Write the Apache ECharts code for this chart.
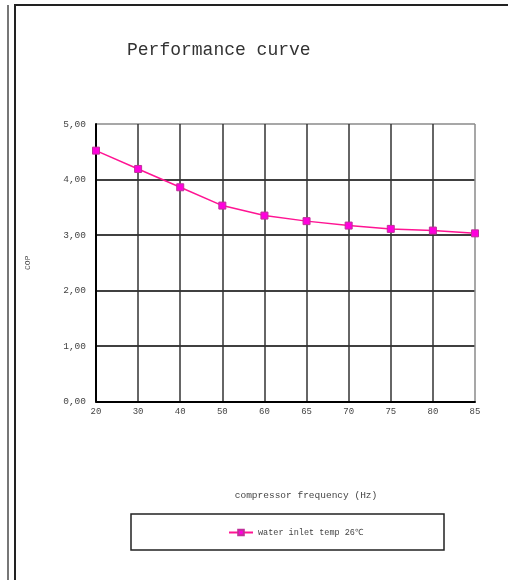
<!DOCTYPE html>
<html>
<head>
<meta charset="utf-8">
<script src="https://cdn.jsdelivr.net/npm/echarts@6/dist/echarts.min.js"></script>
<style>html,body{margin:0;padding:0;background:#fff}#c{width:508px;height:580px}</style>
</head>
<body>
<div id="c"></div>
<script>
const categories = ['20','30','40','50','60','65','70','75','80','85'];
const copValues = [4.52, 4.19, 3.86, 3.53, 3.35, 3.25, 3.17, 3.11, 3.08, 3.03];
const seriesName = 'water inlet temp 26℃';
const titleText = 'Performance curve';
const xName = 'compressor frequency (Hz)';
const yName = 'COP';

const mono = '"Liberation Mono", "DejaVu Sans Mono", monospace';
const chart = echarts.init(document.getElementById('c'));
const xColors = categories.map((c, i) => i === categories.length - 1 ? '#8a8a8a' : '#333');
chart.setOption({
  animation: false,
  backgroundColor: '#fff',
  title: {
    text: titleText, left: 122, top: 36,
    textStyle: { fontFamily: mono, fontSize: 18, fontWeight: 'normal', color: '#333' }
  },
  grid: { left: 96, right: 33, top: 124, bottom: 178.5 },
  legend: {
    left: 228, top: 528, padding: 0, itemWidth: 24, itemHeight: 7, itemGap: 4,
    data: [{ name: seriesName }],
    textStyle: { fontFamily: mono, fontSize: 8.5, color: '#444' }
  },
  xAxis: {
    type: 'category', data: categories, boundaryGap: false,
    name: xName, nameLocation: 'middle', nameGap: 89,
    nameTextStyle: { fontFamily: mono, fontSize: 9.5, color: '#444', padding: [0, 0, 0, 41] },
    axisLine: { lineStyle: { color: '#000', width: 2 } },
    axisTick: { show: false },
    axisLabel: { fontFamily: mono, fontSize: 9, color: '#444', margin: 6 },
    splitLine: { show: true, lineStyle: { color: xColors, width: 1.5 } }
  },
  yAxis: {
    type: 'value', min: 0, max: 5, interval: 1,
    name: yName, nameLocation: 'middle', nameGap: 64, nameRotate: 90,
    nameTextStyle: { fontFamily: mono, fontSize: 8, color: '#444' },
    axisLine: { show: true, lineStyle: { color: '#000', width: 2 } },
    axisTick: { show: false },
    axisLabel: { fontFamily: mono, fontSize: 9.5, color: '#444', margin: 10,
      formatter: v => v.toFixed(2).replace('.', ',') },
    splitLine: { show: true, lineStyle: { color: ['#000','#000','#000','#000','#000','#8a8a8a'], width: 1.5 } }
  },
  series: [{
    name: seriesName, type: 'line', data: copValues,
    symbol: 'rect', symbolSize: 7, showAllSymbol: true,
    lineStyle: { color: '#ff1493', width: 1.5 },
    itemStyle: { color: '#ff00dd', borderColor: '#c0309a', borderWidth: 1 }
  }],
  graphic: [
    { type: 'line', shape: { x1: 8, y1: 5, x2: 8, y2: 580 }, style: { stroke: '#777', lineWidth: 2 } },
    { type: 'line', shape: { x1: 15, y1: 5, x2: 15, y2: 580 }, style: { stroke: '#222', lineWidth: 2 } },
    { type: 'line', shape: { x1: 14, y1: 5, x2: 508, y2: 5 }, style: { stroke: '#222', lineWidth: 2 } },
    { type: 'rect', shape: { x: 131, y: 514, width: 313, height: 36 }, style: { fill: 'none', stroke: '#222', lineWidth: 1.5 } }
  ]
});
</script>
</body>
</html>
